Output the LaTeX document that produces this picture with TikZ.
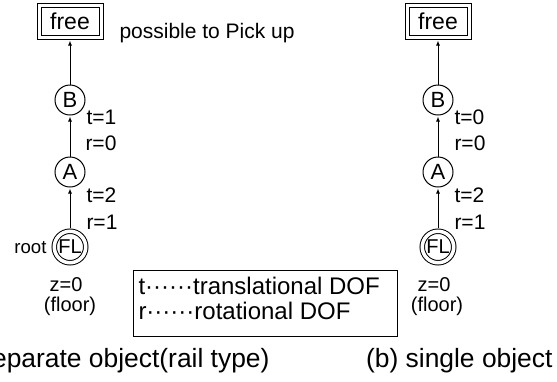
\documentclass[tikz,border=0pt]{standalone}
\usepackage{fontspec}
\setmainfont{Liberation Sans}
\usetikzlibrary{arrows.meta}
\begin{document}
\begin{tikzpicture}[x=0.5pt,y=-0.5pt,line width=0.5pt,
  jnt/.style={draw,circle,inner sep=0pt,minimum size=15pt,font=\fontsize{11}{12}\selectfont},
  rootjnt/.style={jnt,double,double distance=1.75pt,minimum size=15.75pt,outer sep=1.4pt,
    font=\fontsize{10}{12}\selectfont},
  freebox/.style={draw,double,double distance=1.5pt,minimum width=31pt,minimum height=16pt,
    inner sep=0pt,outer sep=1.25pt,font=\fontsize{11.5}{13}\selectfont},
  dof/.style={anchor=west,inner sep=0pt,font=\fontsize{10.5}{12}\selectfont},
  floor/.style={inner sep=0pt,font=\fontsize{10}{12}\selectfont},
  legline/.style={anchor=west,inner sep=0pt,font=\fontsize{12}{13}\selectfont},
  caption/.style={anchor=east,inner sep=0pt,font=\fontsize{13.2}{15}\selectfont},
  link/.style={-{Latex[length=2.5pt,width=2pt]},shorten >=0.5pt}]
\useasboundingbox (0,0) rectangle (557,381);

% (a) separate object
\node[freebox] (free1) at (70,21) {free};
\node[dof] (pick) at (119,33) {possible to Pick up};
\node[jnt] (B1) at (70,100) {B};
\node[jnt] (A1) at (70,172) {A};
\node[rootjnt] (FL1) at (70,247) {FL};
\node[anchor=east,inner sep=0pt,font=\fontsize{9.3}{10}\selectfont] (root) at (47,248) {root};
\node[dof] (tB1) at (86,117) {t=1};
\node[dof] (rB1) at (85,143) {r=0};
\node[dof] (tA1) at (86,195) {t=2};
\node[dof] (rA1) at (86,222) {r=1};
\node[floor] (z1) at (66,285) {z=0};
\node[floor] (fl1) at (70,306) {(floor)};
\draw[link] (FL1) -- (A1);
\draw[link] (A1) -- (B1);
\draw[link] (B1) -- (free1);

% (b) single object
\node[freebox] (free2) at (438,21) {free};
\node[jnt] (B2) at (438,100) {B};
\node[jnt] (A2) at (438,172) {A};
\node[rootjnt] (FL2) at (438,247) {FL};
\node[dof] (tB2) at (454,117) {t=0};
\node[dof] (rB2) at (454,143) {r=0};
\node[dof] (tA2) at (454,195) {t=2};
\node[dof] (rA2) at (454,222) {r=1};
\node[floor] (z2) at (434,285) {z=0};
\node[floor] (fl2) at (437,306) {(floor)};
\draw[link] (FL2) -- (A2);
\draw[link] (A2) -- (B2);
\draw[link] (B2) -- (free2);

% legend and captions
\node[draw,minimum width=132pt,minimum height=33pt,inner sep=0pt] (legend) at (265,303) {};
\node[legline] (legt) at (138,286) {t······translational DOF};
\node[legline] (legr) at (138,311) {r······rotational DOF};
\node[caption] (capa) at (270,361) {(a) separate object(rail type)};
\node[caption] (capb) at (553,361) {(b) single object};
\end{tikzpicture}
\end{document}
